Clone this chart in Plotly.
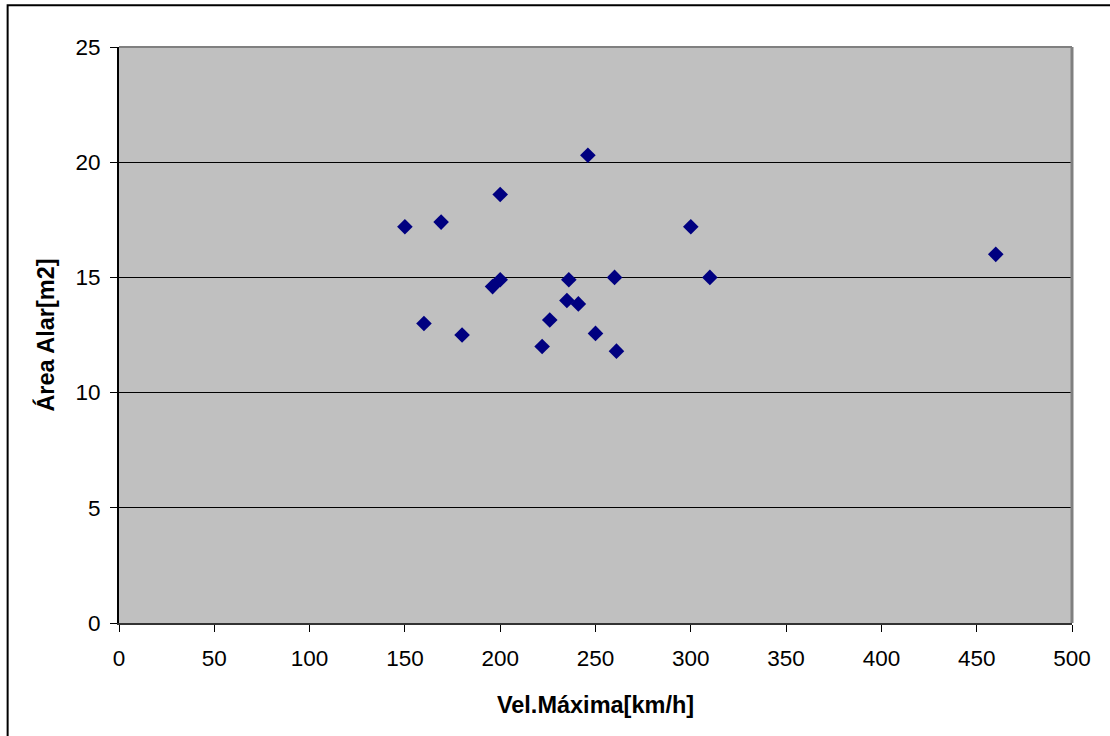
import plotly.graph_objects as go

# Data
vel_maxima = [150, 160, 169, 180, 196, 200, 200, 222, 226, 235, 236, 241, 246, 250, 260, 261, 300, 310, 460]
area_alar = [17.2, 13.0, 17.4, 12.5, 14.6, 14.9, 18.6, 12.0, 13.15, 14.0, 14.9, 13.85, 20.3, 12.57, 15.0, 11.8, 17.2, 15.0, 16.0]

x_ticks = [0, 50, 100, 150, 200, 250, 300, 350, 400, 450, 500]
y_ticks = [0, 5, 10, 15, 20, 25]

FONT = "Liberation Sans, Arial, sans-serif"

fig = go.Figure()
fig.add_trace(go.Scatter(
    x=vel_maxima, y=area_alar, mode="markers",
    marker=dict(symbol="diamond", size=12, color="#000080", line=dict(width=0)),
    showlegend=False, cliponaxis=False,
))

L, R, T, B = 119.3, 1071.7, 46.7, 622.7
W, H = 1110, 736

def px(x):
    return (x - L) / (R - L)

def py(y):
    return (B - y) / (B - T)

fig.update_layout(
    width=W, height=H,
    margin=dict(l=L, r=W - R, t=T, b=H - B, pad=0),
    paper_bgcolor="white",
    plot_bgcolor="#C0C0C0",
    font=dict(family=FONT, size=22.5, color="black"),
    xaxis=dict(
        range=[0, 500], tickvals=x_ticks, ticktext=[str(v) for v in x_ticks],
        ticks="outside", ticklen=7, tickcolor="black", tickwidth=1,
        showline=True, linecolor="#333333", linewidth=2,
        showgrid=False, zeroline=False, ticklabelstandoff=7,
        title=dict(text="<b>Vel.Máxima[km/h]</b>", font=dict(size=23.5), standoff=27),
        tickfont=dict(size=22.5),
    ),
    yaxis=dict(
        range=[0, 25], tickvals=y_ticks, ticktext=[str(v) for v in y_ticks],
        ticks="outside", ticklen=7, tickcolor="black", tickwidth=1,
        showline=True, linecolor="black", linewidth=2,
        showgrid=True, gridcolor="black", gridwidth=1,
        zeroline=False, ticklabelstandoff=5,
        title=dict(text="<b>Área Alar[m2]</b>", font=dict(size=23.5), standoff=14),
        tickfont=dict(size=22.5),
    ),
    shapes=[
        # gray top and right plot-area border
        dict(type="line", xref="paper", yref="paper", x0=0, x1=1, y0=1, y1=1,
             line=dict(color="#808080", width=2)),
        dict(type="line", xref="paper", yref="paper", x0=1, x1=1, y0=0, y1=1,
             line=dict(color="#808080", width=3)),
        # outer chart border
        dict(type="rect", xref="paper", yref="paper",
             x0=px(8), x1=px(1120), y0=py(745), y1=py(5),
             line=dict(color="black", width=2), fillcolor="rgba(0,0,0,0)", layer="above"),
    ],
)

fig.write_html("out.html")
